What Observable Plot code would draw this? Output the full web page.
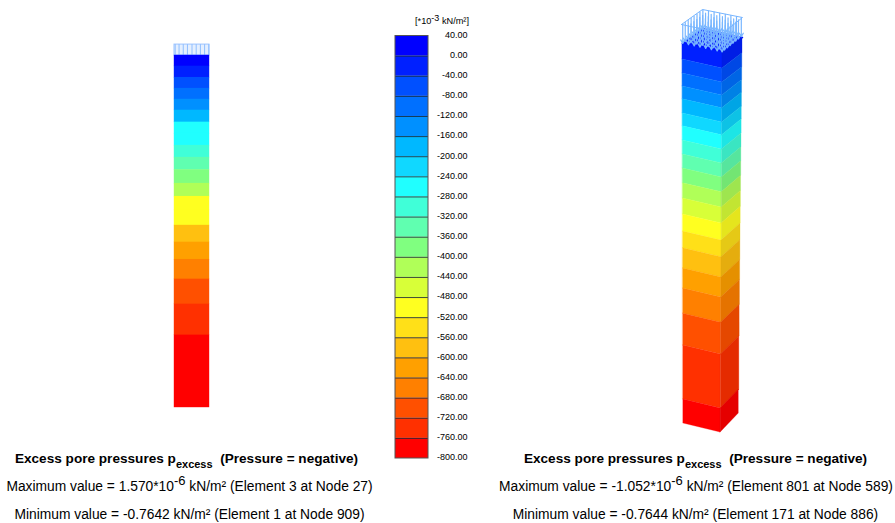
<!DOCTYPE html>
<html>
<head>
<meta charset="utf-8">
<script src="https://cdn.jsdelivr.net/npm/d3@7"></script>
<script src="https://cdn.jsdelivr.net/npm/@observablehq/plot@0.6"></script>
<style>
html,body{margin:0;padding:0;background:#fff;}
#chart{position:relative;width:895px;height:523px;overflow:hidden;font-family:"Liberation Sans",Arial,sans-serif;color:#000;}
#chart svg{position:absolute;left:0;top:0;background:transparent;}
.t{position:absolute;white-space:nowrap;font-size:13.8px;line-height:16px;transform:translateX(-50%);}
.b{font-weight:bold;font-size:13.6px;}
.t sup{font-size:13px;line-height:0;vertical-align:baseline;position:relative;top:-6px;}
.t sub{font-size:11px;line-height:0;vertical-align:baseline;position:relative;top:5px;}
.u{position:absolute;white-space:nowrap;font-size:9.2px;line-height:10px;left:415px;top:16px;}
.u sup{font-size:9px;line-height:0;vertical-align:baseline;position:relative;top:-3px;}
</style>
</head>
<body>
<div id="chart"></div>
<script>
// Legend: contour levels (10^-3 kN/m²) and band colours
const levels = [40,0,-40,-80,-120,-160,-200,-240,-280,-320,-360,-400,-440,-480,-520,-560,-600,-640,-680,-720,-760,-800];
const bandColors = ["#0000ff","#0020ff","#0050ff","#0070ff","#0090ff","#00b8ff","#10d8ff","#20ffff","#40ffd8","#60ffb0","#80ff80","#b0ff58","#d8ff38","#ffff20","#ffe018","#ffc010","#ffa000","#ff8000","#ff5000","#ff3000","#ff0000"];

// Left column: band boundaries (depth, m) and the upper level of each band
const leftDepths = [0,0.31,0.63,0.94,1.25,1.56,1.90,2.22,2.56,2.90,3.25,3.64,4.01,4.40,4.83,5.31,5.80,6.36,7.07,7.95,10];
const leftBandLevels = [40,0,-40,-80,-120,-160,-240,-240,-280,-320,-360,-400,-480,-480,-560,-600,-640,-680,-720,-760];
const leftLoadStations = [0.02,0.13,0.25,0.37,0.5,0.62,0.74,0.86,0.98];

// Right column: band boundaries (depth, m) and the upper level of each band
const rightDepths = [0,0.42,0.79,1.13,1.47,1.84,2.18,2.55,2.92,3.29,3.68,4.08,4.5,4.95,5.39,5.92,6.45,7.11,7.95,9.37,10];
const rightBandLevels = [0,-40,-80,-120,-160,-200,-240,-280,-320,-360,-400,-440,-480,-520,-560,-600,-640,-680,-720,-760];
const rightLoadStations = [0.02,0.16,0.3,0.44,0.58,0.72,0.86,0.98];

const W = 895, H = 523;
const colorOf = v => bandColors[levels.indexOf(v)];
const base = {width: W, height: H, margin: 0, style: {background: "transparent", overflow: "visible"}};
const chart = document.getElementById("chart");

// --- Legend
const legendBands = bandColors.map((c, i) => ({top: levels[i], bottom: levels[i + 1], c}));
chart.append(Plot.plot({
  ...base,
  x: {domain: [0, 1], range: [395, 428], axis: null},
  y: {domain: [40, -800], range: [35.5, 458], axis: null},
  marks: [
    Plot.rect(legendBands, {x1: () => 0, x2: () => 1, y1: "top", y2: "bottom", fill: "c"}),
    Plot.ruleY(levels.slice(1, -1), {x1: () => 0, x2: () => 1, stroke: "#1a2a3a", strokeWidth: 1, strokeOpacity: 0.85}),
    Plot.rect([0], {x1: () => 0, x2: () => 1, y1: () => 40, y2: () => -800, fill: "none", stroke: "#555", strokeWidth: 1}),
    Plot.text(levels, {x: () => 1, y: d => d, dx: 39, dy: -1, text: d => d.toFixed(2), textAnchor: "end",
      fontSize: 9, fontFamily: "Liberation Sans", fill: "#000"})
  ]
}));

// --- Left column (side view)
const leftBands = leftBandLevels.map((lv, i) => ({top: leftDepths[i], bottom: leftDepths[i + 1], c: colorOf(lv)}));
chart.append(Plot.plot({
  ...base,
  x: {domain: [0, 1], range: [174, 209], axis: null},
  y: {domain: [0, 10], range: [55, 407], axis: null},
  marks: [
    Plot.rect([0], {x1: () => 0, x2: () => 1, y1: () => -0.31, y2: () => 0, fill: "#e4efff", stroke: "#9cc4ff", strokeWidth: 1}),
    Plot.ruleX(leftLoadStations, {y1: () => -0.31, y2: () => 0, stroke: "#8fbeff", strokeWidth: 1}),
    Plot.rect(leftBands, {x1: () => 0, x2: () => 1, y1: "top", y2: "bottom", fill: "c", inset: -0.2})
  ]
}));

// --- Right column (3D view): projection of (s along face, depth) onto the picture
const lerp = (a, b, t) => a + (b - a) * t;
const leftEdge = d => [lerp(682, 683, d / 10), lerp(43, 423, d / 10)];
const frontEdge = d => { const p = leftEdge(d); return [lerp(722, 720, d / 10), p[1] + 9]; };
const rightEdge = d => { const p = frontEdge(d); return [lerp(742, 738, d / 10), p[1] - lerp(15, 19, d / 10)]; };

function faceRows(edgeA, edgeB, darken) {
  const rows = [];
  rightBandLevels.forEach((lv, i) => {
    const c = darken ? d3.rgb(colorOf(lv)).darker(0.3).formatHex() : colorOf(lv);
    const top = rightDepths[i], bot = rightDepths[i + 1];
    rows.push({band: i, x: edgeA(top)[0], y1: edgeA(top)[1], y2: edgeA(bot)[1], c});
    rows.push({band: i, x: edgeB(top)[0], y1: edgeB(top)[1], y2: edgeB(bot)[1], c});
  });
  return rows;
}
const topFace = [[682, 43], [722, 52], [742, 37], [702, 28]];
const plateFrame = [[681, 24], [722, 33], [742, 17], [702, 9], [681, 24]];
const plateAt = (u, v) => {
  const [L, F, R, B] = plateFrame;
  const ax = lerp(L[0], F[0], u), ay = lerp(L[1], F[1], u);
  const bx = lerp(B[0], R[0], u), by = lerp(B[1], R[1], u);
  return [lerp(bx, ax, v), lerp(by, ay, v)];
};
const loadArrows = rightLoadStations.flatMap(u => rightLoadStations.map(v => {
  const p = plateAt(u, v);
  return {x: p[0], y1: p[1], y2: p[1] + 19};
}));

chart.append(Plot.plot({
  ...base,
  x: {domain: [0, W], range: [0, W], axis: null},
  y: {domain: [0, H], range: [0, H], axis: null},
  marks: [
    Plot.line(topFace.concat([topFace[0]]), {x: d => d[0], y: d => d[1], fill: "#0010ff", stroke: "#0010ff"}),
    Plot.areaY(faceRows(leftEdge, frontEdge, false), {x: "x", y1: "y1", y2: "y2", z: "band", fill: "c", stroke: "c", strokeWidth: 0.3, curve: "linear"}),
    Plot.areaY(faceRows(frontEdge, rightEdge, true), {x: "x", y1: "y1", y2: "y2", z: "band", fill: "c", stroke: "c", strokeWidth: 0.3, curve: "linear"}),
    Plot.arrow(loadArrows, {x1: "x", x2: "x", y1: "y1", y2: "y2", stroke: "#78b6ff", strokeWidth: 1.2, headLength: 5, bend: 0}),
    Plot.line(plateFrame, {x: d => d[0], y: d => d[1], stroke: "#78b6ff", strokeWidth: 1})
  ]
}));

// --- Captions (real text)
const captions = [
  {c: "b", x: 186.5, y: 451, html: 'Excess pore pressures p<sub>excess</sub>&nbsp; (Pressure = negative)'},
  {c: "", x: 189.5, y: 479, html: 'Maximum value = 1.570*10<sup>-6</sup> kN/m² (Element 3 at Node 27)'},
  {c: "", x: 189.5, y: 507, html: 'Minimum value = -0.7642 kN/m² (Element 1 at Node 909)'},
  {c: "b", x: 695.5, y: 451, html: 'Excess pore pressures p<sub>excess</sub>&nbsp; (Pressure = negative)'},
  {c: "", x: 696, y: 479, html: 'Maximum value = -1.052*10<sup>-6</sup> kN/m² (Element 801 at Node 589)'},
  {c: "", x: 695.5, y: 507, html: 'Minimum value = -0.7644 kN/m² (Element 171 at Node 886)'}
];
for (const cap of captions) {
  const el = document.createElement("div");
  el.className = "t " + cap.c;
  el.style.left = cap.x + "px";
  el.style.top = cap.y + "px";
  el.innerHTML = cap.html;
  chart.append(el);
}
const unit = document.createElement("div");
unit.className = "u";
unit.innerHTML = "[*10<sup>-3</sup> kN/m²]";
chart.append(unit);
</script>
</body>
</html>
